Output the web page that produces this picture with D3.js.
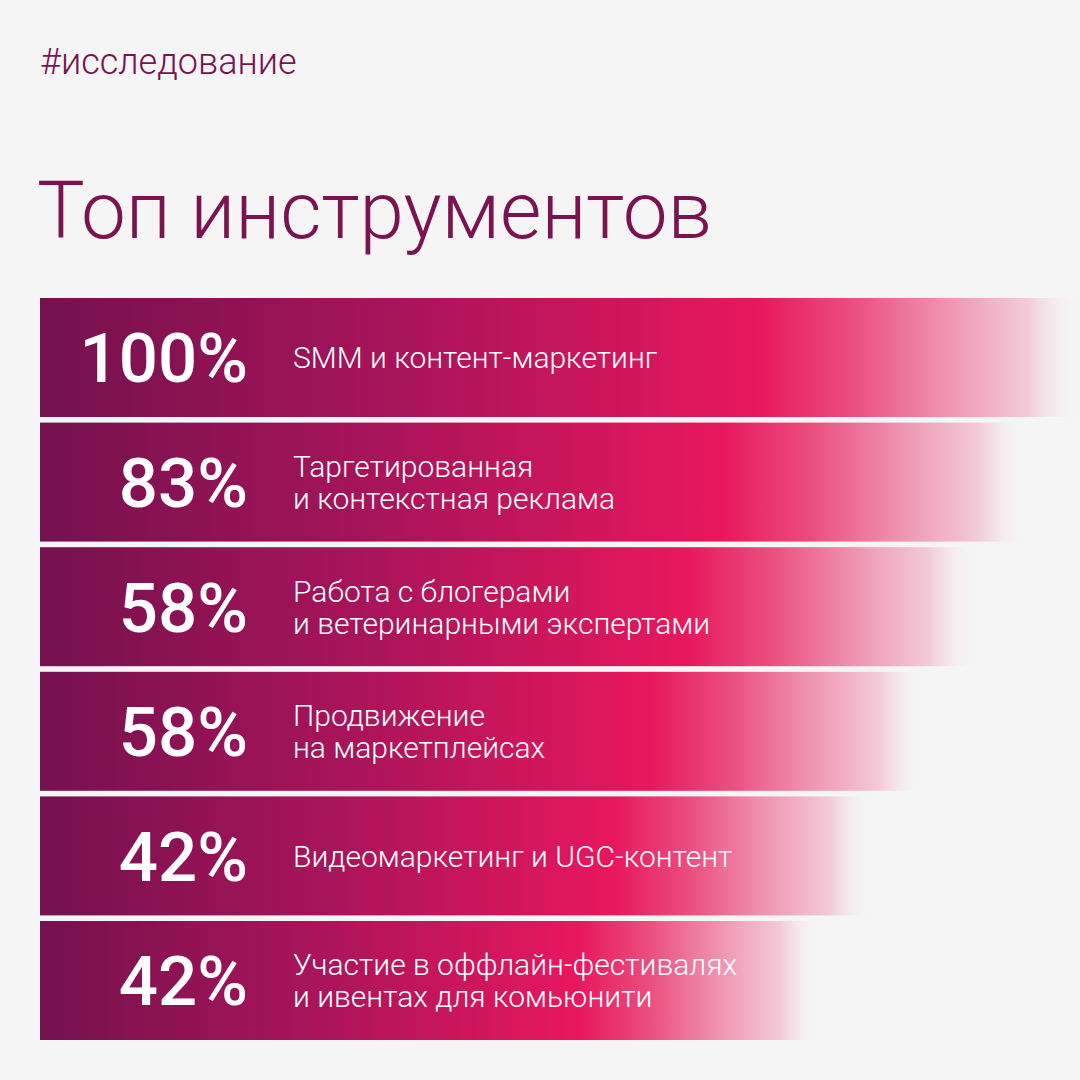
<!DOCTYPE html>
<html>
<head>
<meta charset="utf-8">
<script src="https://cdn.jsdelivr.net/npm/d3@7"></script>
<style>
  html, body { margin: 0; padding: 0; background: #f5f5f5; }
  svg { display: block; font-family: Roboto, "Noto Sans", sans-serif; }
</style>
</head>
<body>
<svg id="chart" width="1080" height="1080"></svg>
<script>
// data
var tag = "#исследование";
var title = "Топ инструментов";
var values = [100, 83, 58, 58, 42, 42];
var labels = [
    ["SMM и контент-маркетинг"],
    ["Таргетированная", "и контекстная реклама"],
    ["Работа с блогерами", "и ветеринарными экспертами"],
    ["Продвижение", "на маркетплейсах"],
    ["Видеомаркетинг и UGC-контент"],
    ["Участие в оффлайн-фестивалях", "и ивентах для комьюнити"]
];

var purple = "#7a1350";

var svg = d3.select("#chart");

svg.append("rect").attr("width", 1080).attr("height", 1080).attr("fill", "#f5f5f5");

svg.append("text")
    .attr("x", 40).attr("y", 74)
    .attr("fill", purple)
    .attr("font-size", 36).attr("font-weight", 300)
    .text(tag);

svg.append("text")
    .attr("x", 37).attr("y", 238)
    .attr("fill", purple)
    .attr("font-size", 80).attr("font-weight", 300)
    .text(title);

// gradient, stretched over each bar's box
var grad = svg.append("defs").append("linearGradient")
    .attr("id", "barGrad")
    .attr("x1", 0).attr("x2", 1).attr("y1", 0).attr("y2", 0);
[
    [0, "#74114f", 1],
    [0.35, "#a9145a", 1],
    [0.69, "#e8175d", 1],
    [0.78, "#eb4d7f", 1],
    [0.88, "#f09ab6", 1],
    [0.95, "#f3cbd8", 1],
    [1, "#f5f5f5", 0]
].forEach(function(s) {
    grad.append("stop").attr("offset", s[0]).attr("stop-color", s[1]).attr("stop-opacity", s[2]);
});

var idx = d3.range(values.length);

var y = d3.scaleBand()
    .domain(idx)
    .range([298, 1040])
    .paddingInner(0.045);

// bars step down by rank
var len = d3.scaleLinear()
    .domain([0, values.length - 1])
    .range([1040, 780]);

var rows = svg.append("g").attr("class", "plot")
    .selectAll("g")
    .data(idx)
    .enter().append("g")
    .attr("transform", function(i) { return "translate(0," + y(i) + ")"; });

rows.append("rect")
    .attr("x", 40)
    .attr("y", 0)
    .attr("width", function(i) { return len(i); })
    .attr("height", y.bandwidth())
    .attr("fill", "url(#barGrad)");

var mid = y.bandwidth() / 2;

rows.append("text")
    .attr("x", 248)
    .attr("y", mid + 25)
    .attr("text-anchor", "end")
    .attr("fill", "#fff")
    .attr("font-size", 69)
    .attr("font-weight", 500)
    .text(function(i) { return values[i] + "%"; });

rows.append("text")
    .attr("fill", "#fff")
    .attr("font-size", 30)
    .attr("font-weight", 300)
    .each(function(i) {
        var lines = labels[i];
        d3.select(this).selectAll("tspan")
            .data(lines)
            .enter().append("tspan")
            .attr("x", 293)
            .attr("y", function(d, k) { return mid + 11 + (k - (lines.length - 1) / 2) * 32; })
            .text(function(d) { return d; });
    });
</script>
</body>
</html>
